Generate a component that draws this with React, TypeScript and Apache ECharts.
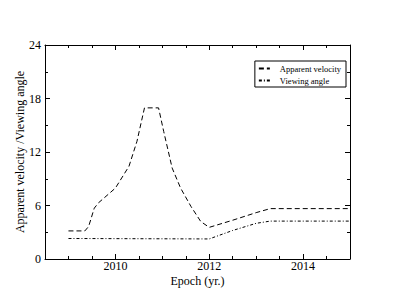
import React, { useEffect, useRef } from "react";
import * as echarts from "echarts";

const velYears = [2009.0, 2009.35, 2009.43, 2009.55, 2009.64, 2010.0, 2010.29, 2010.46, 2010.62, 2010.92, 2011.03, 2011.21, 2011.39, 2011.61, 2011.82, 2012.0, 2012.5, 2013.0, 2013.3, 2015.0];
const velocity = [3.15, 3.15, 3.65, 5.7, 6.3, 7.95, 10.4, 13.2, 16.95, 16.95, 14.3, 10.2, 7.95, 5.9, 4.2, 3.55, 4.35, 5.2, 5.65, 5.65];
const angYears = [2009.0, 2012.0, 2012.5, 2013.0, 2013.3, 2015.0];
const angle = [2.3, 2.25, 3.2, 4.0, 4.25, 4.25];
const majorYears = [2010, 2012, 2014];
const minorYears = [2009, 2009.5, 2010.5, 2011, 2011.5, 2012.5, 2013, 2013.5, 2014.5];
const seriesNames = ["Apparent velocity", "Viewing angle"];

const FONT = "Liberation Serif";

export default function App() {
  const ref = useRef<HTMLDivElement>(null);
  useEffect(() => {
    if (!ref.current) return;
    const chart = echarts.init(ref.current, null, { renderer: "svg" });
    const lineStyle = { color: "#000", width: 1 };
    const baseX = (pos: string, labels: boolean, major: boolean) => ({
      type: "value",
      position: pos,
      min: 2008.5,
      max: 2015,
      interval: 0.5,
      axisLine: { show: major, lineStyle },
      splitLine: { show: false },
      axisTick: {
        show: true,
        inside: true,
        length: major ? 5 : 3,
        customValues: major ? majorYears : minorYears,
        lineStyle,
      },
      axisLabel: {
        show: labels,
        customValues: majorYears,
        formatter: (v: number) => String(v),
        margin: 1,
        lineHeight: 12,
        color: "#000",
        fontFamily: FONT,
        fontSize: 12,
      },
    });
    const baseY = (pos: string, labels: boolean) => ({
      type: "value",
      position: pos,
      min: 0,
      max: 24,
      interval: 6,
      axisLine: { show: true, lineStyle },
      splitLine: { show: false },
      axisTick: { show: true, inside: true, length: 5, lineStyle },
      minorTick: { show: true, splitNumber: 2, length: 3, lineStyle },
      axisLabel: {
        show: labels,
        margin: 4,
        color: "#000",
        fontFamily: FONT,
        fontSize: 12,
      },
    });
    const xBottom: any = {
      ...baseX("bottom", true, true),
      name: "Epoch (yr.)",
      nameLocation: "middle",
      nameGap: 16,
      nameMoveOverlap: false,
      nameTextStyle: { color: "#000", fontFamily: FONT, fontSize: 12, lineHeight: 12, verticalAlign: "top" },
    };
    const yLeft: any = {
      ...baseY("left", true),
      name: "Apparent velocity /Viewing angle",
      nameLocation: "middle",
      nameGap: 19,
      nameMoveOverlap: false,
      nameTextStyle: { color: "#000", fontFamily: FONT, fontSize: 12 },
    };
    chart.setOption({
      animation: false,
      backgroundColor: "#fff",
      grid: { left: 45, top: 45, width: 305, height: 214, containLabel: false },
      legend: {
        data: seriesNames,
        orient: "vertical",
        right: 49,
        top: 61,
        itemWidth: 11,
        itemHeight: 6,
        itemGap: 3,
        padding: [3, 5, 2, 3],
        borderColor: "#000",
        borderWidth: 1,
        backgroundColor: "#fff",
        itemStyle: { opacity: 0 },
        textStyle: { fontFamily: FONT, fontSize: 8.5, color: "#000", padding: [0, 0, 0, 5] },
      },
      xAxis: [
        xBottom,
        baseX("bottom", false, false),
        baseX("top", false, true),
        baseX("top", false, false),
      ],
      yAxis: [yLeft, baseY("right", false)],
      series: [
        {
          name: seriesNames[0],
          type: "line",
          xAxisIndex: 0,
          yAxisIndex: 0,
          symbol: "none",
          data: velYears.map((x, i) => [x, velocity[i]]),
          lineStyle: { color: "#000", width: 1, type: [5, 3] },
          itemStyle: { color: "#000" },
        },
        {
          name: seriesNames[1],
          type: "line",
          xAxisIndex: 0,
          yAxisIndex: 0,
          symbol: "none",
          data: angYears.map((x, i) => [x, angle[i]]),
          lineStyle: { color: "#000", width: 1, type: [3, 2, 1, 2] },
          itemStyle: { color: "#000" },
        },
      ],
    });
    return () => chart.dispose();
  }, []);
  return <div ref={ref} style={{ width: 395, height: 305, position: "absolute", left: 0, top: 0 }} />;
}
